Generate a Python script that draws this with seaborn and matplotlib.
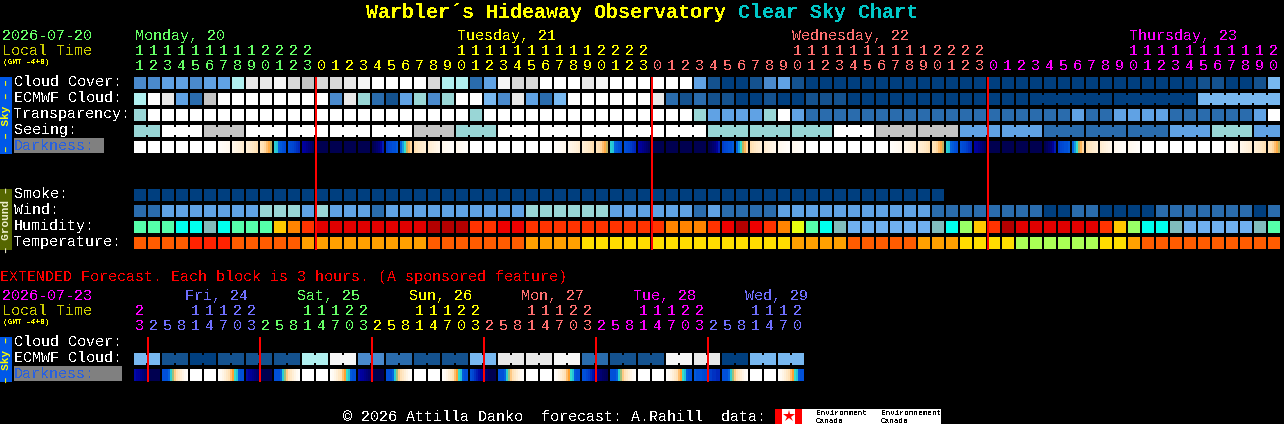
#!/usr/bin/env python

import numpy as np
import matplotlib
matplotlib.use('Agg')
import matplotlib.pyplot as plt
from matplotlib.colors import ListedColormap, LinearSegmentedColormap
from matplotlib.patches import Rectangle
import seaborn as sns

# block colours, one letter per block in the rows below
palette = {
    'd': '#003f7f', 'p': '#14528f', 'o': '#2a6cad', 'n': '#4a8acc', 'm': '#60a2e4',
    'l': '#78b8f0', 't': '#99d6d6', 'c': '#b0f0f0', 'e': '#e8e8e8', 'g': '#c4c4c4',
    'h': '#d8d8d8', 'v': '#f6f6f6', 'w': '#ffffff',
    'A': '#55ffaa', 'C': '#00ffee', 'T': '#80bcbc', 'Y': '#ffc800', 'O': '#ff8400',
    'R': '#ff3300', 'E': '#ee0000', 'X': '#e00000', 'D': '#b40000', 'L': '#99ff66',
    'V': '#e8ff10', 'B': '#70b0f0',
    'F': '#ff5c00', 'G': '#ff2200', 'H': '#ffa000', 'I': '#ffdd00', 'J': '#aaff55',
}

cloud_cover = 'nnmmnmmcee' 'vhghhevwww' 'whccomvhhw' 'wwevwwwwww' 'mpddpnmpdd' \
    'dddddddddd' 'dddddddddd' 'ddddddppdd' 'pl'
ecmwf_cloud = 'cwemogwwww' 'wwwwnetopm' 'tntwwlnemo' 'lwwwwwweop' 'oppddpddpp' \
    'pddddddddd' 'dddddddddd' 'ddddddllll' 'll'
transparency = 'twwwwwwwww' 'wwwwwwwwww' 'wwwwtwwwww' 'wwwwwwwwww' 'tmmmmtwmoo' \
    'oooooooooo' 'ooooooomoo' 'mmmmoooooo' 'mw'
seeing = 'ttwwwgggww' 'wwwwwwwwww' 'gggtttwwww' 'wwwwwwwwww' 'wttttttttt' \
    'wwwggggggm' 'mmmmmooooo' 'oooommmttt' 'mm'
smoke = 'dddddddddd' 'dddddddddd' 'dddddddddd' 'dddddddddd' 'dddddddddd' 'dddddddd'
wind = 'oommmmmmmt' 'ttmtmmmomm' 'mmmmmmmmtt' 'ttttmmmmmm' 'omoooommmm' \
    'mmmmmmmooo' 'oooooddood' 'dddooooooo' 'do'
humidity = 'AAACCTCAAA' 'YORXXXXXXX' 'XDDDRREERR' 'RRRRRRRROO' 'OREDEROVAC' \
    'TBBBBBBTCL' 'YRDXXXXXXR' 'YLCCTBBBBB' 'TA'
temperature = 'FFFFGGGFFF' 'FFHHHHHHHH' 'HFFFFFFFHH' 'HHIIIIIIII' 'IIIIIIIHHH' \
    'HFFFFFHHHI' 'IIIJJJJJJI' 'IHFFFFFFFF' 'FF'
ext_ecmwf = 'lpdpppcvnoppleevoppvedll'

# blocks joined by a thin bridge
seeing_groups = [2] + [3] * 26 + [2]
ecmwf_groups = [1] * 64 + [6, 6, 6]
ext_groups = [2] * 24

# darkness: shape of each block, 6 samples, 0 = daylight, 100 = full night
dark_shapes = {
    'a': [0, 0, 0, 0, 0, 0],
    'b': [2, 3, 4, 5, 6, 7],
    'c': [8, 10, 12, 14, 16, 18],
    'd': [16, 18, 20, 23, 26, 30],
    'e': [26, 29, 32, 36, 40, 43],
    'f': [47, 48, 58, 60, 62, 63],
    'g': [62, 63, 64, 66, 68, 70],
    'h': [78, 80, 84, 88, 92, 96],
    'i': [100, 100, 100, 100, 100, 100],
    'j': [100, 96, 92, 88, 80, 72],
    'k': [66, 64, 63, 62, 62, 60],
    'l': [58, 50, 46, 43, 38, 32],
    'm': [30, 26, 23, 20, 18, 16],
    'n': [18, 16, 14, 12, 10, 8],
    'o': [7, 6, 5, 4, 3, 2],
}
darkness = 'aaaaaabcdefghiiiijklmnoo' 'aaaaaabcdefghiiiijklmnoo' 'aaaaaabcdefghiiiijklmnoo' 'aaaaaabcde'

# extended darkness, 6 hour blocks, 13 samples
ext_shapes = {
    'D': [76, 78, 80, 84, 88, 92, 96, 100, 100, 100, 100, 100, 100],
    'M': [62, 62, 62, 58, 47, 44, 34, 28, 22, 16, 10, 5, 2],
    'E': [2, 5, 10, 16, 22, 28, 36, 42, 46, 48, 60, 62, 62],
    'W': [0, 0, 0, 0, 0, 0, np.nan, 0, 0, 0, 0, 0, 0],
    'P': [62, 64, 68, 72, 76, 80, 84, 88, 92, 96, 100, 100, 100],
    'Q': [62, 62, 64, 66, 70, 74, 78, 82, 86, 90, 94, 96, 98],
    'S': [60, 62, 62, 62, 63, 64, 64, 66, 66, 68, 68, 70, 70],
}
ext_darkness = 'DMWE' 'DMWE' 'DMWE' 'PMWE' 'QMWE' 'SMWE'

# hour labels
day_names = ['Monday, 20', 'Tuesday, 21', 'Wednesday, 22', 'Thursday, 23']
day_name_x = [135, 457, 792, 1129]
day_colors = ['#66ff66', '#ffff00', '#ff7070', '#ff00ff']
hours_tens = ['1111111112222', '          11111111112222', '          11111111112222', '          11111111112']
hours_units = ['1234567890123', '012345678901234567890123', '012345678901234567890123', '012345678901234567890']
midnight_cols = [13, 37, 61]

ext_day_names = ['Fri, 24', 'Sat, 25', 'Sun, 26', 'Mon, 27', 'Tue, 28', 'Wed, 29']
ext_day_name_x = [185, 297, 409, 521, 633, 745]
ext_day_colors = ['#7070ff', '#66ff66', '#ffff00', '#ff7070', '#ff00ff', '#7070ff']
ext_tens = ['2', '   11122', '   11122', '   11122', '   11122', '   11122', '   1112']
ext_units = ['3', '25814703', '25814703', '25814703', '25814703', '25814703', '2581470']
ext_colors = ['#ff00ff'] + ext_day_colors
ext_midnight_cols = [1, 9, 17, 25, 33, 41]

fig_w, fig_h = 1284, 424
x0 = 134
pitch = 14
px = 72 / 100  # one pixel in points


def add_ax(x, y, w, h):
    return fig.add_axes([x / fig_w, 1 - (y + h) / fig_h, w / fig_w, h / fig_h])


def draw_row(y, codes, groups=None, repeat=1):
    # one axes per row, the heatmap grid lines make the gaps between blocks
    codes = ''.join(c * repeat for c in codes)
    keys = list(palette)
    values = np.array([[keys.index(c) for c in codes]])
    ax = add_ax(x0 - 1, y - 1, pitch * len(codes), 14)
    sns.heatmap(values, ax=ax, cmap=ListedColormap(list(palette.values())),
                vmin=-0.5, vmax=len(keys) - 0.5, cbar=False,
                xticklabels=False, yticklabels=False, linewidths=2 * px,
                linecolor='black', antialiased=False)
    if groups is not None:
        i = 0
        for size in groups:
            for k in range(i + 1, i + size):
                ax.add_patch(Rectangle((k - 1.5 / pitch, 3 / 14), 3 / pitch, 8 / 14,
                                       color=palette[codes[k]], lw=0, antialiased=False, zorder=5))
            i += size
    ax.axis('off')


def draw_dark(y, codes, shapes):
    samples = []
    for c in codes:
        samples += list(shapes[c]) + [np.nan]
    ax = add_ax(x0, y, 2 * len(samples), 12)
    sns.heatmap(np.array([samples], dtype=float), ax=ax, cmap=dark_cmap, vmin=0, vmax=100,
                cbar=False, xticklabels=False, yticklabels=False, antialiased=False)
    ax.axis('off')


sns.set_theme(style='dark', rc={'axes.facecolor': 'black', 'figure.facecolor': 'black'})
plt.rcParams['font.family'] = ['Liberation Mono', 'DejaVu Sans']
plt.rcParams['text.antialiased'] = False

dark_cmap = LinearSegmentedColormap.from_list('dark', [
    (0.00, '#ffffff'), (0.10, '#fff5e6'), (0.30, '#ffdfb0'), (0.42, '#ffa030'),
    (0.46, '#30e0d0'), (0.52, '#0a80e8'), (0.62, '#0050d8'), (0.78, '#0000a0'),
    (1.00, '#000050'),
])
dark_cmap.set_bad('black')

fig = plt.figure(figsize=(fig_w / 100, fig_h / 100), dpi=100, facecolor='black')

# overlay in pixel units for text and lines
ov = fig.add_axes([0, 0, 1, 1], zorder=10)
ov.set_xlim(0, fig_w)
ov.set_ylim(fig_h, 0)
ov.axis('off')


def txt(x, y, s, color='white', size=15, **kw):
    ov.text(x, y, s, color=color, fontsize=size * px, va='baseline', **kw)


def side_txt(y, s, color):
    ov.text(6, y, s, color=color, fontsize=11 * px, fontweight='bold', rotation=90,
            ha='center', va='center', antialiased=True)


# title
txt(366, 18, 'Warbler´s Hideaway Observatory', '#ffff00', size=20, fontweight='bold')
txt(738, 18, 'Clear Sky Chart', '#00c8c8', size=20, fontweight='bold')

# main rows
draw_row(77, cloud_cover)
draw_row(93, ecmwf_cloud, ecmwf_groups)
draw_row(109, transparency)
draw_row(125, seeing, seeing_groups)
draw_dark(141, darkness, dark_shapes)
draw_row(189, smoke)
draw_row(205, wind)
draw_row(221, humidity)
draw_row(237, temperature)

# extended rows
draw_row(353, ext_ecmwf, ext_groups, repeat=2)
draw_dark(369, ext_darkness, ext_shapes)

# header text
txt(2, 40, '2026-07-20', day_colors[0])
txt(2, 55, 'Local Time', '#cccc00')
txt(3, 64, '(GMT -4+0)', '#ffff00', size=7.8, fontweight='bold')
for name, x, color in zip(day_names, day_name_x, day_colors):
    txt(x, 40, name, color)
col = 0
for tens, units, color in zip(hours_tens, hours_units, day_colors):
    for t, u in zip(tens, units):
        cx = x0 + pitch * col + 5.5
        txt(cx, 55, t, color, ha='center')
        txt(cx, 70, u, color, ha='center')
        col += 1

# row labels
for y, label in zip([86, 102, 118, 134], ['Cloud Cover:', 'ECMWF Cloud:', 'Transparency:', 'Seeing:']):
    txt(14, y, label)
ov.add_patch(Rectangle((14, 138), 90, 15, color='#808080', lw=0))
txt(14, 150, 'Darkness:', '#2860e0')
for y, label in zip([198, 214, 230, 246], ['Smoke:', 'Wind:', 'Humidity:', 'Temperature:']):
    txt(14, y, label)

# side bars
ov.add_patch(Rectangle((0, 77), 12, 77, color='#0058e8', lw=0))
ov.add_patch(Rectangle((0, 189), 12, 61, color='#556600', lw=0))
ov.add_patch(Rectangle((0, 337), 12, 45, color='#0058e8', lw=0))
side_txt(115.5, '– – Sky – –', '#ffff00')
side_txt(219.5, '– Ground –', '#f0f0d0')
side_txt(359.5, '– Sky –', '#ffff00')

# midnight lines
ov.vlines([x0 + pitch * c for c in midnight_cols], 77, 250, color='#ff0000', lw=2 * px, antialiased=False)
ov.vlines([x0 + pitch * c for c in ext_midnight_cols], 337, 382, color='#ff0000', lw=2 * px, antialiased=False)

# extended block
txt(0, 281, 'EXTENDED Forecast. Each block is 3 hours. (A sponsored feature)', '#ff0000')
txt(2, 300, '2026-07-23', '#ff00ff')
txt(2, 315, 'Local Time', '#cccc00')
txt(3, 324, '(GMT -4+0)', '#ffff00', size=7.8, fontweight='bold')
for name, x, color in zip(ext_day_names, ext_day_name_x, ext_day_colors):
    txt(x, 300, name, color)
col = 0
for tens, units, color in zip(ext_tens, ext_units, ext_colors):
    for t, u in zip(tens, units):
        cx = x0 + pitch * col + 5.5
        txt(cx, 315, t, color, ha='center')
        txt(cx, 330, u, color, ha='center')
        col += 1
txt(14, 346, 'Cloud Cover:')
txt(14, 362, 'ECMWF Cloud:')
ov.add_patch(Rectangle((14, 366), 108, 15, color='#808080', lw=0))
txt(14, 378, 'Darkness:', '#2860e0')

# footer
txt(343, 421, '© 2026 Attilla Danko  forecast: A.Rahill  data:')
ov.add_patch(Rectangle((775, 409), 166, 15, color='white', lw=0))
ov.add_patch(Rectangle((775, 409), 7, 15, color='#ff0000', lw=0))
ov.add_patch(Rectangle((795, 409), 7, 15, color='#ff0000', lw=0))
ov.plot([788.5], [416], marker='*', ms=9, color='#ff0000', mew=0)
for x, word in [(816, 'Environment'), (881, 'Environnement')]:
    txt(x, 415, word, 'black', size=7.6)
    txt(x, 423, 'Canada', 'black', size=7.6)
ov.set_xlim(0, fig_w)
ov.set_ylim(fig_h, 0)

fig.savefig('out.png', dpi=100, facecolor='black')
